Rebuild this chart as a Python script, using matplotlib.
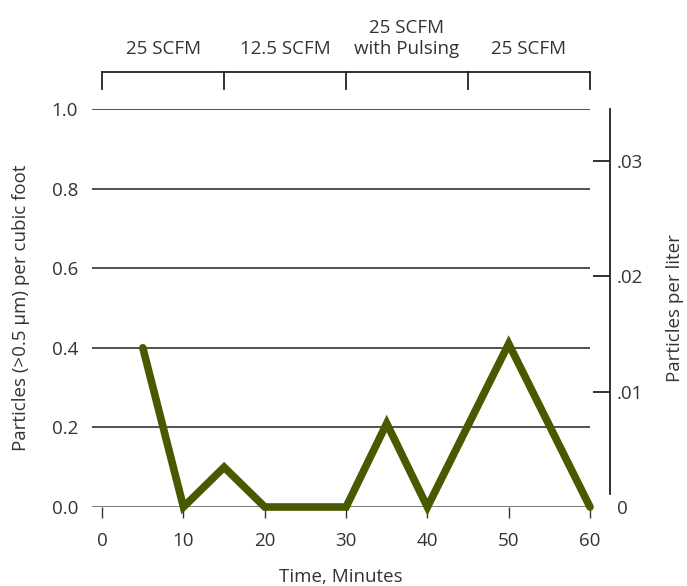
import matplotlib
matplotlib.use("Agg")
import matplotlib.pyplot as plt

plt.rcParams['font.family'] = ['Open Sans', 'DejaVu Sans']

time_min = [5, 10, 15, 20, 30, 35, 40, 50, 60]
particles_cf = [0.40, 0.0, 0.10, 0.0, 0.0, 0.21, 0.0, 0.41, 0.0]
y_ticks = [0.0, 0.2, 0.4, 0.6, 0.8, 1.0]
y_tick_labels = ["0.0", "0.2", "0.4", "0.6", "0.8", "1.0"]
x_ticks = [0, 10, 20, 30, 40, 50, 60]
right_ticks = [0.0, 0.01, 0.02, 0.03]
right_tick_labels = ["0", ".01", ".02", ".03"]
phase_bounds = [0, 15, 30, 45, 60]
phase_labels = ["25 SCFM", "12.5 SCFM", "25 SCFM\nwith Pulsing", "25 SCFM"]
liters_per_cf = 29.0

txt = '#333333'
fs = 13.5
fig = plt.figure(figsize=(6.87, 5.86), dpi=100)
ax = fig.add_axes([92/687, 1-507/586, (590-92)/687, (507-109)/586])
ax.set_xlim(-1.25, 60)
ax.set_ylim(0, 1)
for s in ax.spines.values():
    s.set_visible(False)
for yv in y_ticks:
    ax.axhline(yv, color='#222222' if yv > 0 else '#555555', lw=1.1, zorder=1)
ax.set_yticks(y_ticks)
ax.set_yticklabels(y_tick_labels)
ax.tick_params(axis='y', length=0, pad=10, labelsize=fs, labelcolor=txt)
ax.set_xticks(x_ticks)
ax.tick_params(axis='x', length=8, width=1, color='#333333', direction='out', pad=10, labelsize=fs, labelcolor=txt)
ax.set_xlabel("Time, Minutes", fontsize=fs, color=txt, labelpad=13)
ax.set_ylabel("Particles (>0.5 µm) per cubic foot", fontsize=fs, color=txt, labelpad=16)

ax.plot(time_min, particles_cf, color='#475a00', lw=5.5, solid_capstyle='round',
        solid_joinstyle='miter', clip_on=False, zorder=3)

ax2 = ax.twinx()
ax2.set_ylim(0, 1/liters_per_cf)
for k, s in ax2.spines.items():
    s.set_visible(k == 'right')
ax2.spines['right'].set_position(('outward', 14.5))
ax2.spines['right'].set_bounds(0.0011, 1/liters_per_cf)
ax2.spines['right'].set_linewidth(1.3)
ax2.spines['right'].set_color('#222222')
ax2.set_yticks(right_ticks)
ax2.set_yticklabels(right_tick_labels)
ax2.tick_params(axis='y', direction='in', length=12, width=1.3, color='#222222', pad=5, labelsize=fs, labelcolor=txt)
ax2.yaxis.get_major_ticks()[0].tick2line.set_visible(False)
ax2.set_ylabel("Particles per liter", fontsize=fs, color=txt, labelpad=16)

# phase bracket above the plot
yb = 1.093
ax.plot([phase_bounds[0], phase_bounds[-1]], [yb, yb],
        color='#222222', lw=1.3, clip_on=False)
for b in phase_bounds:
    ax.plot([b, b], [yb, yb - 0.042], color='#222222', lw=1.3, clip_on=False)
for i, lab in enumerate(phase_labels):
    xc = (phase_bounds[i] + phase_bounds[i+1]) / 2
    ax.text(xc, yb + 0.035, lab, ha='center', va='bottom', fontsize=fs, color=txt,
            linespacing=1.2)

fig.savefig("out.png", dpi=100)
